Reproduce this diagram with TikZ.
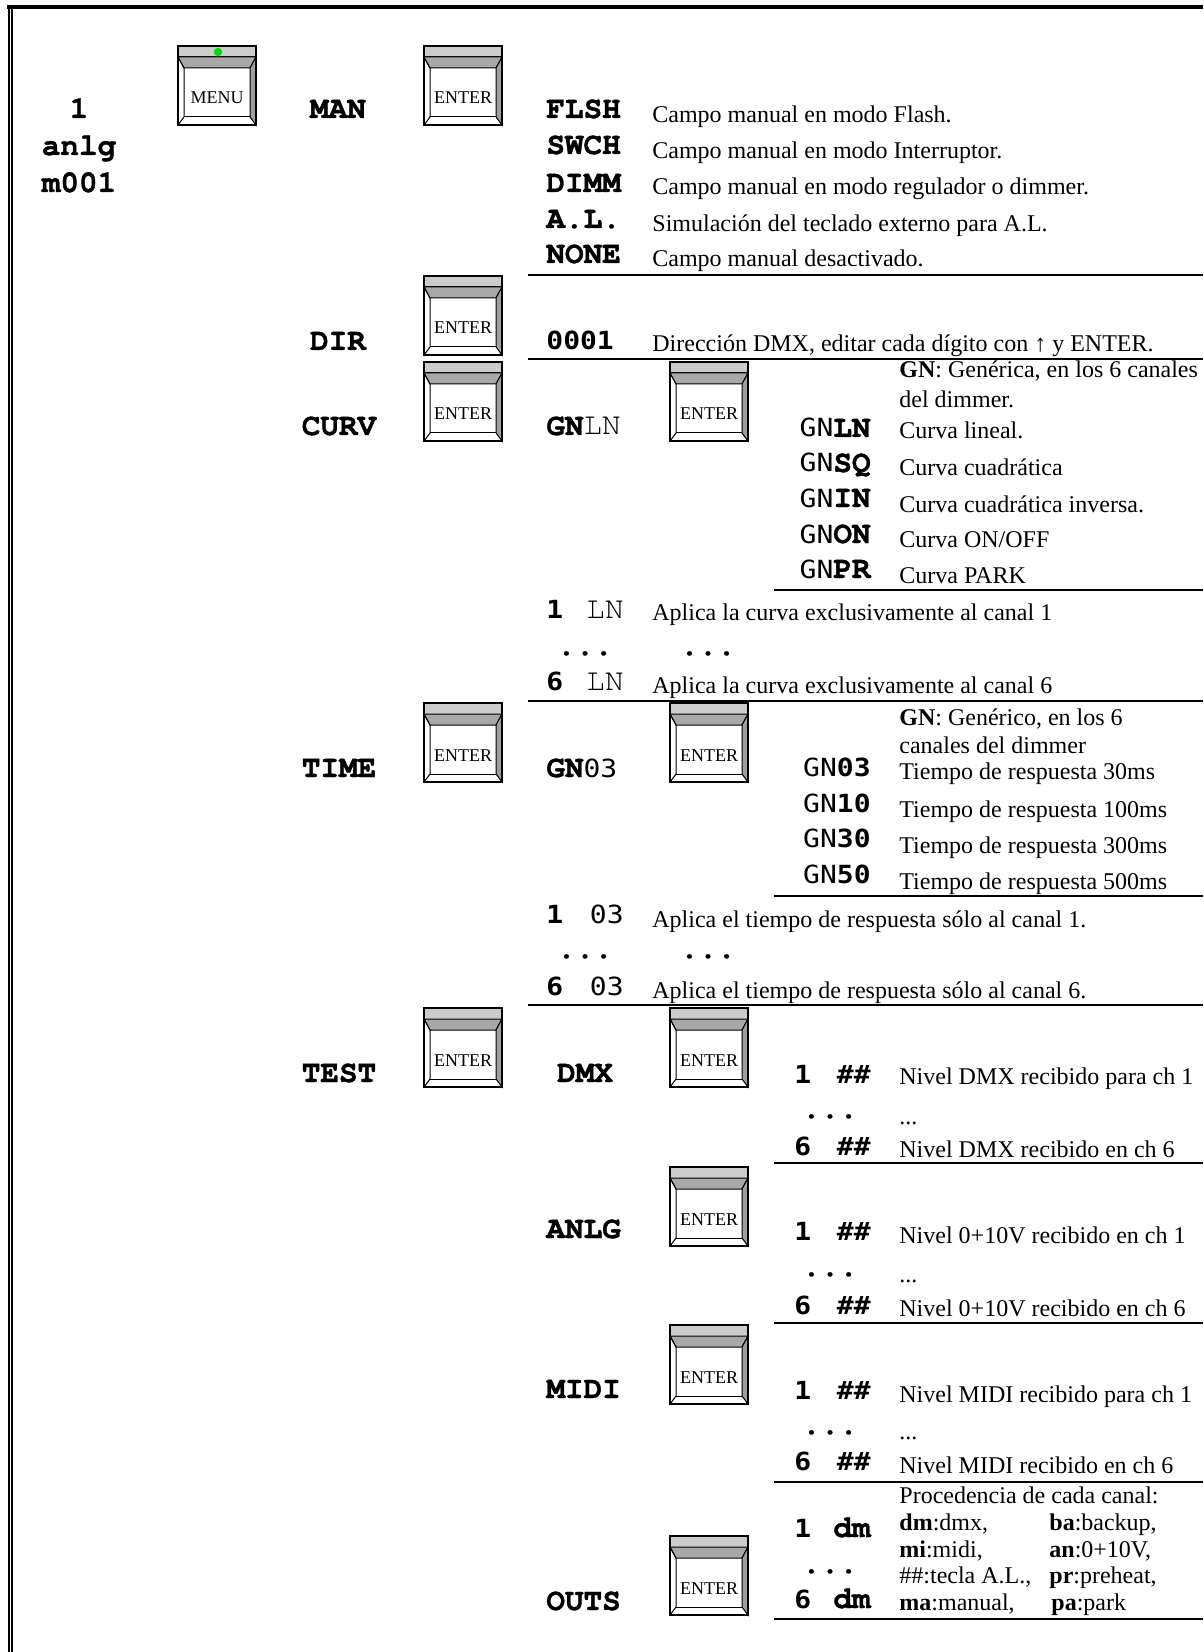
\documentclass[tikz,border=0pt]{standalone}
\usepackage{fontspec}
\setmainfont{Liberation Serif}
\newfontfamily\cmono{texgyrecursor}[Extension=.otf,UprightFont=*-regular,BoldFont=*-bold,BoldFeatures={FakeBold=1.2}]
\newfontfamily\smono[FakeStretch=1.12]{DejaVu Sans Mono}
\newcommand\cbf{\cmono\bfseries\fontsize{15.5}{18}\selectfont}
\newcommand\crg{\cmono\mdseries\fontsize{15.5}{18}\selectfont}
\newcommand\sbf{\smono\bfseries\fontsize{12.5}{15}\selectfont}
\newcommand\srg{\smono\mdseries\fontsize{12.5}{15}\selectfont}
\newcommand\sersz{\fontsize{12}{14}\selectfont}
\definecolor{keytop}{gray}{0.80}
\definecolor{keyband}{gray}{0.66}
\definecolor{keyside}{gray}{0.62}
\definecolor{ledgreen}{RGB}{0,225,0}
\begin{document}
\begin{tikzpicture}[x=0.5pt,y=-0.5pt,
  code/.style={inner sep=0pt,anchor=base west,font=\cbf},
  codec/.style={inner sep=0pt,anchor=base,font=\cbf},
  coder/.style={inner sep=0pt,anchor=base east,font=\cbf},
  desc/.style={inner sep=0pt,anchor=base west,font=\sersz},
  sepline/.style={line width=1.1pt},
  keytext/.style={inner sep=0pt,anchor=base,font=\fontsize{9}{10}\selectfont},
  pics/keybtn/.style={code={
    \fill[white] (0,0) rectangle (78,79);
    \filldraw[fill=keytop,line width=0.5pt] (0,0) rectangle (78,11);
    \filldraw[fill=keyband,line width=0.5pt] (0,11) -- (78,11) -- (72,22) -- (6,22) -- cycle;
    \filldraw[fill=keyside,line width=0.5pt] (78,11) -- (78,79) -- (72,71) -- (72,22) -- cycle;
    \draw[line width=0.5pt] (0,11) -- (6,22) -- (6,71) -- (0,79);
    \draw[line width=0.5pt] (6,71) -- (72,71);
    \draw[line width=0.6pt] (0,0) rectangle (78,79);
    \node[keytext] (-t) at (39,58) {#1};
  }}]
\useasboundingbox (0,0) rectangle (1203,1652);
% frame
\fill (7,5) rectangle (1203,9);
\fill (7.7,5) rectangle (9.6,1652);
\fill (10.7,5) rectangle (13,1652);
% left status
\node[codec] (st1) at (79,118) {1};
\node[codec] (st2) at (79,155) {anlg};
\node[codec] (st3) at (79,192) {m001};
% MENU key
\pic (menu) at (178,46) {keybtn=MENU};
\fill[ledgreen] (218,52) circle [radius=2.1pt];
% first level
\node[codec] (man) at (338,118) {MAN};
\node[codec] (dir) at (338,350) {DIR};
\node[codec] (curv) at (339,435) {CURV};
\node[codec] (time) at (339,777) {TIME};
\node[codec] (test) at (339,1082) {TEST};
\pic (k1) at (424,46) {keybtn=ENTER};
\pic (k2) at (424,276) {keybtn=ENTER};
\pic (k3) at (424,362) {keybtn=ENTER};
\pic (k4) at (424,703) {keybtn=ENTER};
\pic (k5) at (424,1008) {keybtn=ENTER};
% MAN options
\node[code] (flsh) at (546,118) {FLSH};
\node[code] (swch) at (546,154) {SWCH};
\node[code] (dimm) at (546,192) {DIMM};
\node[code] (al) at (546,228) {A.L.};
\node[code] (none) at (546,263) {NONE};
\node[desc] (dflsh) at (652,123) {Campo manual en modo Flash.};
\node[desc] (dswch) at (652,159) {Campo manual en modo Interruptor.};
\node[desc] (ddimm) at (652,195) {Campo manual en modo regulador o dimmer.};
\node[desc] (dal) at (652,232) {Simulación del teclado externo para A.L.};
\node[desc] (dnone) at (652,267) {Campo manual desactivado.};
\draw[sepline] (528,275) -- (1203,275);
% DIR
\node[code,font=\sbf] (addr) at (546,350) {0001};
\node[desc] (daddr) at (652,352) {Dirección DMX, editar cada dígito con ↑ y ENTER.};
\draw[sepline] (528,359) -- (1203,359);
% CURV
\node[code] (gnln) at (546,435) {GN{\crg LN}};
\pic (k6) at (670,362) {keybtn=ENTER};
\node[desc] (dgn1) at (899,378) {\textbf{GN}: Genérica, en los 6 canales};
\node[desc] (dgn2) at (899,408) {del dimmer.};
\node[coder] (cln) at (871,437) {{\srg GN}LN};
\node[coder] (csq) at (871,472) {{\srg GN}SQ};
\node[coder] (cin) at (871,507) {{\srg GN}IN};
\node[coder] (con) at (871,543) {{\srg GN}ON};
\node[coder] (cpr) at (871,578) {{\srg GN}PR};
\node[desc] (dln) at (899,438) {Curva lineal.};
\node[desc] (dsq) at (899,475) {Curva cuadrática};
\node[desc] (din) at (899,512) {Curva cuadrática inversa.};
\node[desc] (don) at (899,547) {Curva ON/OFF};
\node[desc] (dpr) at (899,583) {Curva PARK};
\draw[sepline] (774,590) -- (1203,590);
\node[code,font=\sbf] (c1n) at (546,618) {1};
\node[coder,font=\crg] (c1v) at (624,618) {LN};
\node[desc] (dc1) at (652,620) {Aplica la curva exclusivamente al canal 1};
\node[codec] (cdots1) at (585,655) {...};
\node[codec] (cdots2) at (708,655) {...};
\node[code,font=\sbf] (c6n) at (546,690) {6};
\node[coder,font=\crg] (c6v) at (624,690) {LN};
\node[desc] (dc6) at (652,693) {Aplica la curva exclusivamente al canal 6};
\draw[sepline] (528,701) -- (1203,701);
% TIME
\node[code] (gn03) at (546,777) {GN{\srg 03}};
\pic (k7) at (670,703) {keybtn=ENTER};
\node[desc] (dgt1) at (899,725) {\textbf{GN}: Genérico, en los 6};
\node[desc] (dgt2) at (899,753) {canales del dimmer};
\node[coder,font=\sbf] (t03) at (871,776) {{\srg GN}03};
\node[coder,font=\sbf] (t10) at (871,812) {{\srg GN}10};
\node[coder,font=\sbf] (t30) at (871,847) {{\srg GN}30};
\node[coder,font=\sbf] (t50) at (871,883) {{\srg GN}50};
\node[desc] (dt03) at (899,779) {Tiempo de respuesta 30ms};
\node[desc] (dt10) at (899,817) {Tiempo de respuesta 100ms};
\node[desc] (dt30) at (899,853) {Tiempo de respuesta 300ms};
\node[desc] (dt50) at (899,889) {Tiempo de respuesta 500ms};
\draw[sepline] (774,896) -- (1203,896);
\node[code,font=\sbf] (t1n) at (546,923) {1};
\node[coder,font=\srg] (t1v) at (624,923) {03};
\node[desc] (dtc1) at (652,927) {Aplica el tiempo de respuesta sólo al canal 1.};
\node[codec] (tdots1) at (585,958) {...};
\node[codec] (tdots2) at (708,958) {...};
\node[code,font=\sbf] (t6n) at (546,995) {6};
\node[coder,font=\srg] (t6v) at (624,995) {03};
\node[desc] (dtc6) at (652,998) {Aplica el tiempo de respuesta sólo al canal 6.};
\draw[sepline] (528,1005) -- (1203,1005);
% TEST - DMX
\node[codec] (dmx) at (585,1082) {DMX};
\pic (k8) at (670,1008) {keybtn=ENTER};
\node[code,font=\sbf] (x1n) at (794,1083) {1};
\node[coder,font=\sbf] (x1v) at (871,1083) {\#\#};
\node[desc] (dx1) at (899,1084) {Nivel DMX recibido para ch 1};
\node[codec] (xdots) at (830,1118) {...};
\node[desc] (dxdots) at (899,1124) {...};
\node[code,font=\sbf] (x6n) at (794,1155) {6};
\node[coder,font=\sbf] (x6v) at (871,1155) {\#\#};
\node[desc] (dx6) at (899,1157) {Nivel DMX recibido en ch 6};
\draw[sepline] (774,1163) -- (1203,1163);
% ANLG
\node[code] (anlg) at (546,1238) {ANLG};
\pic (k9) at (670,1167) {keybtn=ENTER};
\node[code,font=\sbf] (a1n) at (794,1240) {1};
\node[coder,font=\sbf] (a1v) at (871,1240) {\#\#};
\node[desc] (da1) at (899,1243) {Nivel 0+10V recibido en ch 1};
\node[codec] (adots) at (830,1276) {...};
\node[desc] (dadots) at (899,1282) {...};
\node[code,font=\sbf] (a6n) at (794,1314) {6};
\node[coder,font=\sbf] (a6v) at (871,1314) {\#\#};
\node[desc] (da6) at (899,1316) {Nivel 0+10V recibido en ch 6};
\draw[sepline] (774,1323) -- (1203,1323);
% MIDI
\node[code] (midi) at (546,1398) {MIDI};
\pic (k10) at (670,1325) {keybtn=ENTER};
\node[code,font=\sbf] (m1n) at (794,1399) {1};
\node[coder,font=\sbf] (m1v) at (871,1399) {\#\#};
\node[desc] (dm1) at (899,1402) {Nivel MIDI recibido para ch 1};
\node[codec] (mdots) at (830,1434) {...};
\node[desc] (dmdots) at (899,1439) {...};
\node[code,font=\sbf] (m6n) at (794,1470) {6};
\node[coder,font=\sbf] (m6v) at (871,1470) {\#\#};
\node[desc] (dm6) at (899,1473) {Nivel MIDI recibido en ch 6};
\draw[sepline] (774,1482) -- (1203,1482);
% OUTS
\node[code] (outs) at (546,1610) {OUTS};
\pic (k11) at (670,1536) {keybtn=ENTER};
\node[desc] (dproc) at (899,1503) {Procedencia de cada canal:};
\node[code,font=\sbf] (o1n) at (794,1537) {1};
\node[coder] (o1v) at (871,1537) {dm};
\node[codec] (odots) at (830,1573) {...};
\node[code,font=\sbf] (o6n) at (794,1608) {6};
\node[coder] (o6v) at (871,1608) {dm};
\node[desc] (odm) at (899,1530) {\textbf{dm}:dmx,};
\node[desc] (omi) at (899,1557) {\textbf{mi}:midi,};
\node[desc] (ohh) at (899,1583) {\#\#:tecla A.L.,};
\node[desc] (oma) at (899,1610) {\textbf{ma}:manual,};
\node[desc] (oba) at (1049,1530) {\textbf{ba}:backup,};
\node[desc] (oan) at (1049,1557) {\textbf{an}:0+10V,};
\node[desc] (opr) at (1049,1583) {\textbf{pr}:preheat,};
\node[desc] (opa) at (1051,1610) {\textbf{pa}:park};
\draw[sepline] (774,1619) -- (1203,1619);
\end{tikzpicture}
\end{document}
